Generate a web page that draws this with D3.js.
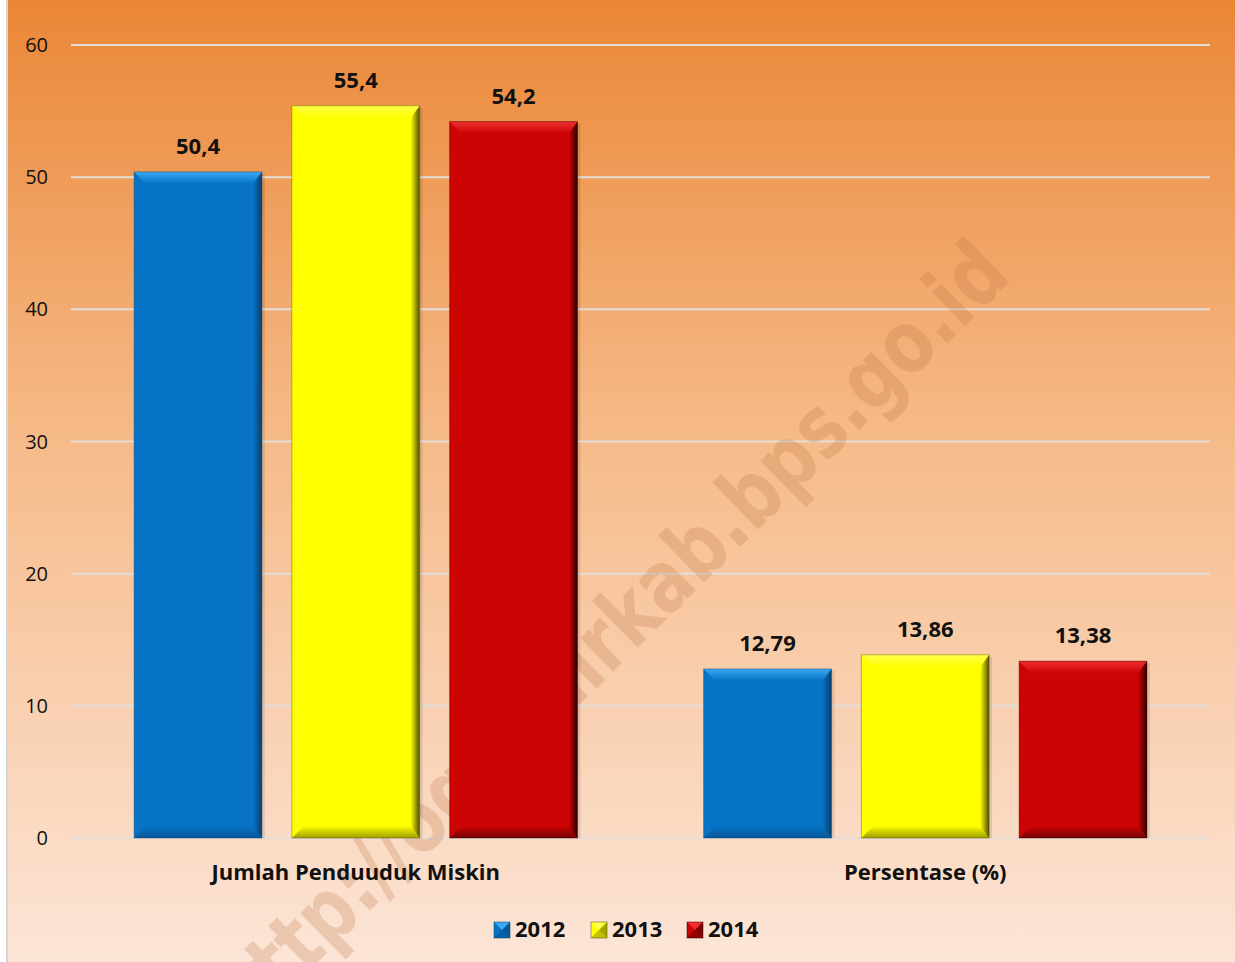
<!DOCTYPE html>
<html>
<head>
<meta charset="utf-8">
<script src="https://cdn.jsdelivr.net/npm/d3@7"></script>
<style>
  body { margin: 0; background: #fff; }
  svg { display: block; }
</style>
</head>
<body>
<svg id="chart"></svg>
<script>
const categories = ['Jumlah Penduuduk Miskin', 'Persentase (%)']
const years = ['2012', '2013', '2014']
const values2012 = [50.4, 12.79]
const values2013 = [55.4, 13.86]
const values2014 = [54.2, 13.38]
const labels2012 = ['50,4', '12,79']
const labels2013 = ['55,4', '13,86']
const labels2014 = ['54,2', '13,38']
const yTicks = [0, 10, 20, 30, 40, 50, 60]

const W = 1235, H = 962
const plotLeft = 71, plotRight = 1210, plotTop = 45, plotBottom = 838

// colours per year: main face, top bevel, dark edge
const palette = {
  '2012': { main: '#0673C6', light: '#3AA8F2', dark: '#0A3F6E' },
  '2013': { main: '#FFFF00', light: '#FFFF4A', dark: '#4E4E00' },
  '2014': { main: '#CC0404', light: '#F02E2E', dark: '#2E0000' }
}

const rows = categories.map((c, i) => ({
  category: c,
  bars: [
    { year: '2012', value: values2012[i], label: labels2012[i] },
    { year: '2013', value: values2013[i], label: labels2013[i] },
    { year: '2014', value: values2014[i], label: labels2014[i] }
  ]
}))

const svg = d3.select('#chart').attr('width', W).attr('height', H)
  .style('font-family', '"Open Sans", Lato, sans-serif')

const defs = svg.append('defs')
const bg = defs.append('linearGradient').attr('id', 'bg')
  .attr('x1', 0).attr('y1', 0).attr('x2', 0).attr('y2', 1)
bg.append('stop').attr('offset', '0%').attr('stop-color', '#EA8636')
bg.append('stop').attr('offset', '45%').attr('stop-color', '#F6BA88')
bg.append('stop').attr('offset', '100%').attr('stop-color', '#FCE5D7')

// gradients for the bevel edges
years.forEach(yr => {
  const c = palette[yr]
  const gr = defs.append('linearGradient').attr('id', 'right' + yr)
    .attr('x1', 0).attr('y1', 0).attr('x2', 1).attr('y2', 0)
  gr.append('stop').attr('offset', '0%').attr('stop-color', c.main)
  gr.append('stop').attr('offset', '100%').attr('stop-color', c.dark)
  const gb = defs.append('linearGradient').attr('id', 'bottom' + yr)
    .attr('x1', 0).attr('y1', 0).attr('x2', 0).attr('y2', 1)
  gb.append('stop').attr('offset', '0%').attr('stop-color', c.main)
  gb.append('stop').attr('offset', '100%').attr('stop-color', c.dark)
  const gt = defs.append('linearGradient').attr('id', 'top' + yr)
    .attr('x1', 0).attr('y1', 0).attr('x2', 0).attr('y2', 1)
  gt.append('stop').attr('offset', '0%').attr('stop-color', c.light)
  gt.append('stop').attr('offset', '100%').attr('stop-color', c.main)
})

svg.append('rect').attr('x', 7).attr('y', -2).attr('width', W).attr('height', H + 4)
  .attr('fill', 'url(#bg)').attr('stroke', '#D6D6D6').attr('stroke-width', 2)

const y = d3.scaleLinear().domain([0, 60]).range([plotBottom, plotTop])
const x0 = d3.scaleBand().domain(categories).range([plotLeft, plotRight]).padding(0)
const x1 = d3.scaleBand().domain(years).range([0, x0.bandwidth()])
  .paddingInner(0.19).paddingOuter(0.4)

// gridlines + tick labels
const grid = svg.append('g')
grid.selectAll('line').data(yTicks).join('line')
  .attr('x1', plotLeft).attr('x2', plotRight)
  .attr('y1', d => y(d)).attr('y2', d => y(d))
  .attr('stroke', '#E3DED9').attr('stroke-width', 2)
grid.selectAll('text').data(yTicks).join('text')
  .attr('x', 48).attr('y', d => y(d) + 7)
  .attr('text-anchor', 'end')
  .style('font-size', '20px').style('fill', '#111')
  .text(d => d)

// watermark
svg.append('text')
  .attr('transform', 'translate(630,655) rotate(-44.5)')
  .attr('text-anchor', 'middle')
  .attr('textLength', 1075).attr('lengthAdjust', 'spacingAndGlyphs')
  .style('font-family', '"DejaVu Sans", sans-serif')
  .style('font-weight', 'bold').style('font-size', '86px')
  .style('fill', '#B8703F').style('fill-opacity', 0.24)
  .text('http://oganilirkab.bps.go.id')

// bevelled bar
function bevel(g, bx, by, bw, bh, yr) {
  const c = palette[yr]
  const b = Math.min(12, bh / 2), r = 9
  g.append('rect').attr('x', bx).attr('y', by).attr('width', bw).attr('height', bh).attr('fill', c.main)
  const pts = [
    { p: [[bx, by + bh], [bx + bw, by + bh], [bx + bw - r, by + bh - b], [bx + b, by + bh - b]], f: `url(#bottom${yr})`, o: 0.55 },
    { p: [[bx + bw, by], [bx + bw, by + bh], [bx + bw - r, by + bh - b], [bx + bw - r, by + b]], f: `url(#right${yr})` },
    { p: [[bx, by], [bx + bw, by], [bx + bw - r, by + b], [bx + b, by + b]], f: `url(#top${yr})` }
  ]
  g.selectAll('polygon.bv').data(pts).join('polygon').attr('class', 'bv')
    .attr('points', d => d.p.map(q => q.join(',')).join(' '))
    .attr('fill', d => d.f).attr('fill-opacity', d => d.o || 1)
  g.append('rect').attr('x', bx).attr('y', by).attr('width', bw).attr('height', bh)
    .attr('fill', 'none').attr('stroke', c.dark).attr('stroke-opacity', 0.4).attr('stroke-width', 1)
}

const groups = svg.selectAll('g.cat').data(rows).join('g').attr('class', 'cat')
  .attr('transform', d => `translate(${x0(d.category)},0)`)

groups.each(function (d) {
  const g = d3.select(this)
  d.bars.forEach(b => {
    const bx = x1(b.year), by = y(b.value), bw = x1.bandwidth(), bh = y(0) - y(b.value)
    // soft shadow
    g.append('rect').attr('x', bx + 3).attr('y', by + 2).attr('width', bw).attr('height', bh - 2)
      .attr('fill', '#000').attr('fill-opacity', 0.1)
    bevel(g.append('g'), bx, by, bw, bh, b.year)
    g.append('text')
      .attr('x', bx + bw / 2).attr('y', by - 18)
      .attr('text-anchor', 'middle')
      .style('font-size', '22px').style('font-weight', 'bold').style('fill', '#111')
      .text(b.label)
  })
  g.append('text')
    .attr('x', x0.bandwidth() / 2).attr('y', 880)
    .attr('text-anchor', 'middle')
    .style('font-size', '22px').style('font-weight', 'bold').style('fill', '#111')
    .text(d.category)
})

// legend
const legX = [494, 591, 687]
const leg = svg.selectAll('g.leg').data(years).join('g').attr('class', 'leg')
  .attr('transform', (d, i) => `translate(${legX[i]},922)`)
leg.each(function (d) {
  const g = d3.select(this)
  const c = palette[d]
  g.append('rect').attr('width', 16).attr('height', 16).attr('fill', c.main)
  g.append('polygon').attr('points', '0,0 16,0 8,8').attr('fill', c.light)
  g.append('polygon').attr('points', '16,0 16,16 8,8').attr('fill', c.dark).attr('fill-opacity', 0.5)
  g.append('polygon').attr('points', '0,16 16,16 8,8').attr('fill', c.dark).attr('fill-opacity', 0.35)
  g.append('rect').attr('width', 16).attr('height', 16).attr('fill', 'none').attr('stroke', c.dark).attr('stroke-opacity', 0.5)
})
leg.append('text').attr('x', 21).attr('y', 15)
  .style('font-size', '22px').style('font-weight', 'bold').style('fill', '#111')
  .text(d => d)
</script>
</body>
</html>
